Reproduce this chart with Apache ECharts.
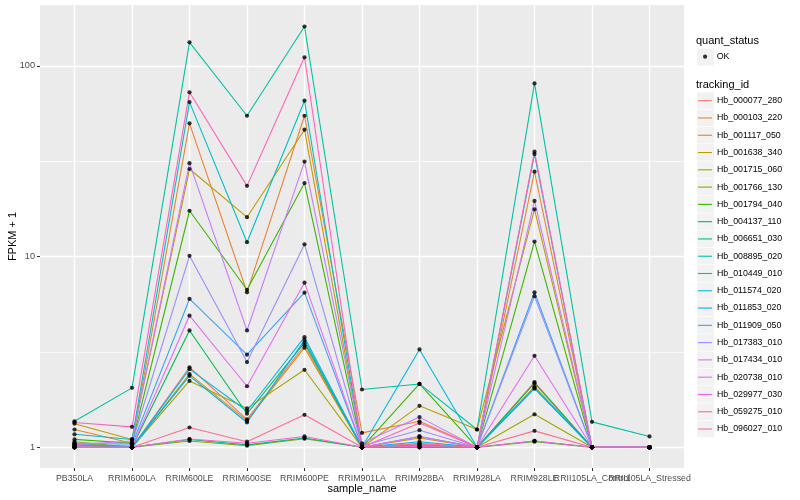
<!DOCTYPE html>
<html><head><meta charset="utf-8">
<script src="https://cdn.jsdelivr.net/npm/echarts@6/dist/echarts.min.js"></script>
<style>html,body{margin:0;padding:0;background:#fff}#c{width:800px;height:500px}</style>
</head><body><div id="c"></div>
<script>
// ---- data ----
const categories = ["PB350LA","RRIM600LA","RRIM600LE","RRIM600SE","RRIM600PE","RRIM901LA","RRIM928BA","RRIM928LA","RRIM928LE","RRII105LA_Control","RRII105LA_Stressed"];
const trackingIds = ["Hb_000077_280","Hb_000103_220","Hb_001117_050","Hb_001638_340","Hb_001715_060","Hb_001766_130","Hb_001794_040","Hb_004137_110","Hb_006651_030","Hb_008895_020","Hb_010449_010","Hb_011574_020","Hb_011853_020","Hb_011909_050","Hb_017383_010","Hb_017434_010","Hb_020738_010","Hb_029977_030","Hb_059275_010","Hb_096027_010"];
const hb_000077_280 = [1.02, 1.00, 2.63, 1.40, 3.43, 1.00, 1.05, 1.00, 2.20, 1.00, 1.00];
const hb_000103_220 = [1.24, 1.05, 50.0, 6.5, 54.8, 1.19, 1.37, 1.00, 27.9, 1.00, 1.00];
const hb_001117_050 = [1.05, 1.00, 2.42, 1.38, 3.33, 1.00, 1.12, 1.00, 2.08, 1.00, 1.00];
const hb_001638_340 = [1.33, 1.10, 28.8, 16.1, 46.3, 1.00, 1.65, 1.24, 17.7, 1.00, 1.00];
const hb_001715_060 = [1.00, 1.00, 2.23, 1.60, 2.55, 1.00, 1.02, 1.00, 1.49, 1.00, 1.00];
const hb_001766_130 = [1.07, 1.00, 1.08, 1.02, 1.11, 1.00, 1.00, 1.00, 1.07, 1.00, 1.00];
const hb_001794_040 = [1.10, 1.05, 17.4, 6.7, 24.3, 1.00, 2.15, 1.00, 12.0, 1.00, 1.00];
const hb_004137_110 = [1.03, 1.00, 4.1, 1.50, 3.54, 1.00, 1.00, 1.00, 2.17, 1.00, 1.00];
const hb_006651_030 = [1.00, 1.00, 1.10, 1.03, 1.12, 1.00, 1.00, 1.00, 1.08, 1.00, 1.00];
const hb_008895_020 = [1.37, 2.05, 133, 54.8, 161, 2.01, 2.15, 1.24, 81, 1.36, 1.14];
const hb_010449_010 = [1.17, 1.10, 64.6, 11.9, 65.7, 1.00, 1.03, 1.00, 34.5, 1.00, 1.00];
const hb_011574_020 = [1.04, 1.00, 2.57, 1.55, 3.78, 1.00, 3.26, 1.00, 2.03, 1.00, 1.00];
const hb_011853_020 = [1.00, 1.00, 2.37, 1.35, 3.65, 1.00, 1.07, 1.00, 2.05, 1.00, 1.00];
const hb_011909_050 = [1.02, 1.03, 6.0, 3.06, 6.47, 1.00, 1.14, 1.00, 6.5, 1.00, 1.00];
const hb_017383_010 = [1.05, 1.05, 10.1, 2.80, 11.6, 1.02, 1.23, 1.00, 6.2, 1.00, 1.00];
const hb_017434_010 = [1.03, 1.08, 30.9, 4.1, 31.5, 1.05, 1.44, 1.00, 19.6, 1.00, 1.00];
const hb_020738_010 = [1.00, 1.00, 4.9, 2.09, 7.3, 1.00, 1.14, 1.00, 3.02, 1.00, 1.00];
const hb_029977_030 = [1.00, 1.00, 1.105, 1.05, 1.14, 1.00, 1.01, 1.00, 1.08, 1.00, 1.00];
const hb_059275_010 = [1.35, 1.28, 72.7, 23.5, 111, 1.00, 1.34, 1.00, 35.5, 1.00, 1.00];
const hb_096027_010 = [1.00, 1.00, 1.27, 1.07, 1.48, 1.00, 1.04, 1.00, 1.22, 1.00, 1.00];
const yTickValues = [1, 10, 100];
const yMinorValues = [3.1623, 31.623];

const seriesValues = [hb_000077_280,hb_000103_220,hb_001117_050,hb_001638_340,hb_001715_060,hb_001766_130,hb_001794_040,hb_004137_110,hb_006651_030,hb_008895_020,hb_010449_010,hb_011574_020,hb_011853_020,hb_011909_050,hb_017383_010,hb_017434_010,hb_020738_010,hb_029977_030,hb_059275_010,hb_096027_010];
const palette = ["#F8766D","#EA8331","#D89000","#C09B00","#A3A500","#7CAE00","#39B600","#00BB4E","#00BF7D","#00C1A3","#00BFC4","#00BAE0","#00B0F6","#35A2FF","#9590FF","#C77CFF","#E76BF3","#FA62DB","#FF62BC","#FF6C91"];

const FONT = '"Liberation Sans", Arial, sans-serif';
const chart = echarts.init(document.getElementById('c'), null, {renderer: 'canvas'});

const lineSeries = trackingIds.map((id, k) => ({
  name: id, type: 'line', xAxisIndex: 0, yAxisIndex: 0,
  data: seriesValues[k].map((v, i) => [i, v]),
  showSymbol: false, symbol: 'none',
  lineStyle: {width: 1.1, color: palette[k]}, itemStyle: {color: palette[k]},
  emphasis: {disabled: true}, z: 2
}));
const pointData = [];
seriesValues.forEach(arr => arr.forEach((v, i) => pointData.push([i, v])));
const pointSeries = {
  name: 'OK', type: 'scatter', xAxisIndex: 0, yAxisIndex: 0,
  data: pointData, symbol: 'circle', symbolSize: 4.2,
  itemStyle: {color: '#000'}, emphasis: {disabled: true}, z: 3
};

const graphics = [
  {type: 'text', left: 696, top: 35, style: {text: 'quant_status', font: '11px ' + FONT, fill: '#000'}},
  {type: 'rect', shape: {x: 697, y: 48.5, width: 17, height: 17}, style: {fill: '#F2F2F2'}, z: -1},
  {type: 'text', left: 696, top: 79, style: {text: 'tracking_id', font: '11px ' + FONT, fill: '#000'}}
];
trackingIds.forEach((id, k) => {
  graphics.push({type: 'rect', shape: {x: 697, y: 92.3 + k * 17.28, width: 17, height: 16.6}, style: {fill: '#F2F2F2'}, z: -1});
});

const mainTickIdx = categories.map((c, i) => i).filter(i => i !== 9);
const axisLabelBase = {formatter: v => categories[Math.round(v)], fontSize: 8.8, color: '#4D4D4D', margin: 6, fontFamily: FONT, hideOverlap: false, showMinLabel: true, showMaxLabel: true};

const option = {
  animation: false,
  backgroundColor: '#fff',
  textStyle: {fontFamily: FONT},
  grid: {left: 40, right: 116, top: 5, bottom: 32, show: true, backgroundColor: '#EBEBEB', borderWidth: 0, containLabel: false, outerBoundsMode: 'none'},
  xAxis: [{
    type: 'value', min: -0.6, max: 10.6, position: 'bottom',
    name: 'sample_name', nameLocation: 'middle', nameGap: 15, nameMoveOverlap: false,
    nameTextStyle: {fontSize: 11, color: '#000', fontFamily: FONT},
    axisLine: {show: false, onZero: false},
    axisTick: {show: true, length: 3, lineStyle: {color: '#333', width: 1}, customValues: categories.map((c, i) => i)},
    axisLabel: Object.assign({customValues: mainTickIdx}, axisLabelBase),
    splitLine: {show: true, lineStyle: {color: '#fff', width: 1.4}}
  }, {
    type: 'value', min: -0.6, max: 10.6, position: 'bottom', offset: 0,
    axisLine: {show: false, onZero: false},
    axisTick: {show: false, customValues: [9]},
    axisLabel: Object.assign({customValues: [9]}, axisLabelBase),
    splitLine: {show: false}
  }],
  yAxis: [{
    type: 'log', logBase: 10, min: 0.779, max: 208.7,
    name: 'FPKM + 1', nameLocation: 'middle', nameGap: 22, nameRotate: 90, nameMoveOverlap: false,
    nameTextStyle: {fontSize: 11, color: '#000', fontFamily: FONT},
    axisLine: {show: false, onZero: false},
    axisTick: {show: true, length: 3, lineStyle: {color: '#333', width: 1}, customValues: yTickValues},
    axisLabel: {customValues: yTickValues, fontSize: 9.2, color: '#4D4D4D', margin: 5, fontFamily: FONT, showMinLabel: true, showMaxLabel: true},
    splitLine: {show: true, lineStyle: {color: '#fff', width: 1.4}},
    z: 1
  }, {
    type: 'log', logBase: 10, min: 0.779, max: 208.7, position: 'left',
    axisLine: {show: false, onZero: false},
    axisTick: {show: false, customValues: yMinorValues},
    axisLabel: {show: false, customValues: yMinorValues},
    splitLine: {show: true, lineStyle: {color: '#fff', width: 0.7}},
    z: 0
  }],
  legend: [{
    data: ['OK'], orient: 'vertical', left: 698, top: 45.7,
    itemWidth: 4.2, itemHeight: 4.2, icon: 'circle', itemGap: 5,
    selectedMode: false,
    textStyle: {fontSize: 8.8, color: '#000', lineHeight: 12, fontFamily: FONT, padding: [0, 0, 0, 4.5]}
  }, {
    data: trackingIds, orient: 'vertical', left: 693, top: 89.7,
    itemWidth: 14, itemHeight: 1.1, icon: 'rect', itemGap: 5.28,
    selectedMode: false,
    textStyle: {fontSize: 8.8, color: '#000', lineHeight: 12, fontFamily: FONT}
  }],
  graphic: graphics,
  series: lineSeries.concat([pointSeries])
};
chart.setOption(option);
</script></body></html>
